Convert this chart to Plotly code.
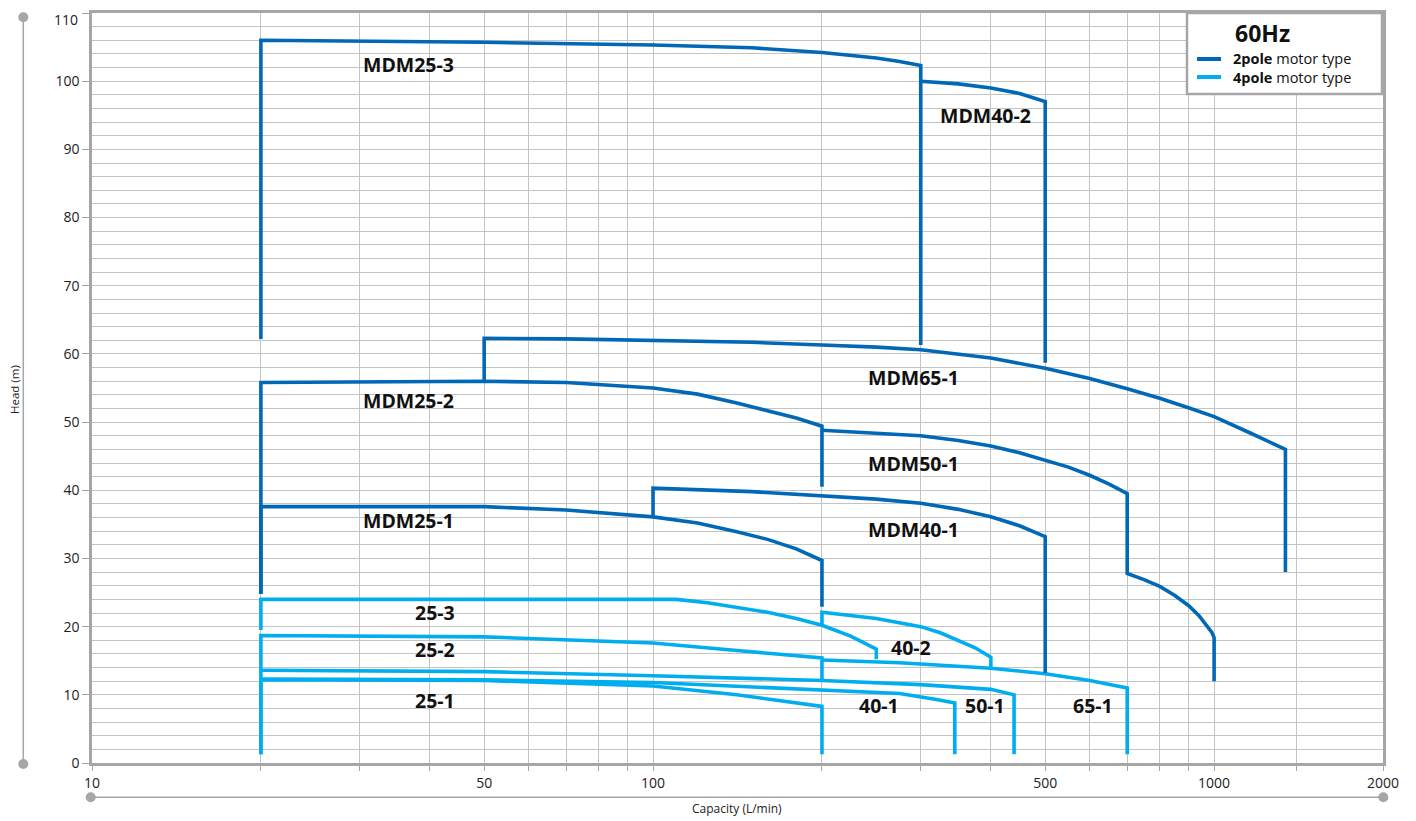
import numpy as np
import plotly.graph_objects as go

# ---------------- data ----------------
# 2-pole motor type (dark blue)
mdm25_3_x = [20, 20, 50, 100, 150, 200, 250, 275, 300, 300]
mdm25_3_y = [62.2, 106.0, 105.7, 105.3, 104.9, 104.2, 103.4, 102.9, 102.3, 61.3]
mdm40_2_x = [300, 350, 400, 450, 500, 500]
mdm40_2_y = [100.0, 99.6, 99.0, 98.2, 97.0, 58.7]
mdm65_1_x = [50, 50, 70, 100, 150, 200, 250, 300, 400, 500, 600, 700, 800, 900, 1000, 1160, 1340, 1340]
mdm65_1_y = [56.0, 62.3, 62.2, 62.0, 61.7, 61.3, 61.0, 60.6, 59.4, 57.9, 56.4, 54.9, 53.5, 52.1, 50.8, 48.4, 46.0, 28.0]
mdm25_2_x = [20, 20, 50, 70, 100, 120, 141, 160, 180, 200, 200]
mdm25_2_y = [24.8, 55.8, 56.0, 55.8, 55.0, 54.1, 52.8, 51.7, 50.6, 49.4, 40.5]
mdm50_1_x = [200, 250, 300, 350, 400, 450, 500, 550, 600, 650, 700, 700, 750, 800, 850, 900, 940, 970, 990, 1000, 1000]
mdm50_1_y = [48.8, 48.4, 48.0, 47.3, 46.5, 45.5, 44.4, 43.4, 42.2, 40.9, 39.5, 27.8, 26.9, 25.9, 24.6, 23.1, 21.6, 20.2, 19.2, 18.4, 12.0]
mdm25_1_x = [20, 20, 50, 70, 100, 120, 141, 160, 180, 200, 200]
mdm25_1_y = [24.8, 37.6, 37.6, 37.1, 36.1, 35.2, 33.9, 32.8, 31.4, 29.7, 22.9]
mdm40_1_x = [100, 100, 150, 200, 250, 300, 350, 400, 450, 500, 500]
mdm40_1_y = [36.1, 40.3, 39.8, 39.2, 38.7, 38.1, 37.2, 36.1, 34.8, 33.2, 13.2]

# 4-pole motor type (light blue)
p25_3_x = [20, 20, 50, 100, 110, 125, 141, 160, 180, 200, 225, 250, 250]
p25_3_y = [19.5, 24.0, 24.0, 24.1, 24.0, 23.5, 22.8, 22.1, 21.2, 20.2, 18.6, 16.7, 15.2]
p40_2_x = [200, 200, 250, 300, 325, 350, 375, 400, 400]
p40_2_y = [20.2, 22.1, 21.2, 20.0, 19.1, 18.0, 16.9, 15.5, 14.0]
p25_2_x = [20, 20, 50, 100, 141, 200, 200]
p25_2_y = [1.3, 18.7, 18.5, 17.6, 16.5, 15.4, 12.3]
p65_1_x = [200, 275, 400, 500, 600, 700, 700]
p65_1_y = [15.1, 14.7, 13.9, 13.1, 12.1, 11.0, 1.3]
p50_1_x = [20, 50, 100, 200, 300, 400, 440, 440]
p50_1_y = [13.6, 13.4, 12.8, 12.1, 11.5, 10.8, 10.0, 1.3]
p40_1_x = [20, 50, 100, 200, 275, 320, 345, 345]
p40_1_y = [12.3, 12.2, 11.8, 10.7, 10.2, 9.3, 8.8, 1.3]
p25_1_x = [20, 20, 50, 100, 141, 200, 200]
p25_1_y = [1.3, 12.2, 12.1, 11.3, 10.0, 8.3, 1.3]

# curve labels: text, x, y
label_text = ["MDM25-3", "MDM40-2", "MDM65-1", "MDM25-2", "MDM50-1", "MDM25-1", "MDM40-1",
              "25-3", "40-2", "25-2", "25-1", "40-1", "50-1", "65-1"]
label_x = [36.6, 391, 291, 36.6, 291, 36.6, 291, 40.8, 288, 40.8, 40.8, 253, 391, 608]
label_y = [102.4, 94.9, 56.5, 53.2, 43.9, 35.5, 34.2, 22.1, 17.0, 16.7, 9.1, 8.4, 8.4, 8.4]

# axis ticks
x_grid = [10, 20, 30, 40, 50, 60, 70, 80, 90, 100, 200, 300, 400, 500, 600, 700, 800, 900,
          1000, 1400, 2000]
x_labeled = [10, 50, 100, 500, 1000, 2000]
y_ticks = list(range(0, 111, 10))
y_top_label = "110"

DARK = "#0068b7"
LIGHT = "#00aeef"
GRID = "#c4c4c4"
AXIS = "#a6a6a6"
FONT = "Open Sans"

series_2pole = [(mdm25_3_x, mdm25_3_y), (mdm40_2_x, mdm40_2_y), (mdm65_1_x, mdm65_1_y),
                (mdm25_2_x, mdm25_2_y), (mdm50_1_x, mdm50_1_y), (mdm25_1_x, mdm25_1_y),
                (mdm40_1_x, mdm40_1_y)]
series_4pole = [(p25_3_x, p25_3_y), (p40_2_x, p40_2_y), (p25_2_x, p25_2_y),
                (p65_1_x, p65_1_y), (p50_1_x, p50_1_y), (p40_1_x, p40_1_y),
                (p25_1_x, p25_1_y)]

fig = go.Figure()
for xs, ys in series_4pole:
    fig.add_trace(go.Scatter(x=xs, y=ys, mode="lines",
                             line=dict(color=LIGHT, width=3.6), hoverinfo="skip"))
for xs, ys in series_2pole:
    fig.add_trace(go.Scatter(x=xs, y=ys, mode="lines",
                             line=dict(color=DARK, width=3.6), hoverinfo="skip"))

annotations = []
for t, lx, ly in zip(label_text, label_x, label_y):
    annotations.append(dict(x=np.log10(lx), y=ly, xref="x", yref="y", text="<b>%s</b>" % t,
                            showarrow=False, xanchor="center", yanchor="middle",
                            font=dict(family=FONT, size=19.5, color="#111111")))

# page offset of the figure (body margin) and plot area in page pixels
O = 8
W, H = 1400, 813
L, R, T, B = 92, 1383, 13, 763
def px(v):
    return (v - L) / (R - L)
def py(v):
    return (B - v) / (B - T)

# top y tick label drawn as annotation so it stays inside the page
annotations.append(dict(x=px(79.5), y=py(8.5), xref="paper", yref="paper", text=y_top_label,
                        showarrow=False, xanchor="right", yanchor="top",
                        font=dict(family=FONT, size=14, color="#222222")))

# axis titles
annotations.append(dict(x=px(15), y=py(390), xref="paper", yref="paper", text="Head (m)",
                        showarrow=False, textangle=-90, xanchor="center", yanchor="middle",
                        font=dict(family=FONT, size=11.5, color="#222222")))
annotations.append(dict(x=px(737), y=py(809), xref="paper", yref="paper",
                        text="Capacity (L/min)", showarrow=False, xanchor="center",
                        yanchor="middle", font=dict(family=FONT, size=12, color="#222222")))

# legend texts
annotations.append(dict(x=px(1262), y=py(33), xref="paper", yref="paper", text="<b>60Hz</b>",
                        showarrow=False, xanchor="center", yanchor="middle",
                        font=dict(family=FONT, size=23, color="#111111")))
annotations.append(dict(x=px(1231), y=py(58.5), xref="paper", yref="paper",
                        text="<b>2pole</b> motor type", showarrow=False, xanchor="left",
                        yanchor="middle", font=dict(family=FONT, size=14.5, color="#111111")))
annotations.append(dict(x=px(1231), y=py(77.5), xref="paper", yref="paper",
                        text="<b>4pole</b> motor type", showarrow=False, xanchor="left",
                        yanchor="middle", font=dict(family=FONT, size=14.5, color="#111111")))

shapes = []
# legend box
shapes.append(dict(type="rect", xref="paper", yref="paper", x0=px(1187), x1=px(1382),
                   y0=py(94), y1=py(13), fillcolor="white", line=dict(color=AXIS, width=2.5),
                   layer="above"))
shapes.append(dict(type="line", xref="paper", yref="paper", x0=px(1197), x1=px(1221),
                   y0=py(59), y1=py(59), line=dict(color=DARK, width=4), layer="above"))
shapes.append(dict(type="line", xref="paper", yref="paper", x0=px(1197), x1=px(1221),
                   y0=py(77), y1=py(77), line=dict(color=LIGHT, width=4), layer="above"))

# decorative axis guides with dots
shapes.append(dict(type="line", xref="paper", yref="paper", x0=px(23.3), x1=px(23.3),
                   y0=py(17.3), y1=py(764), line=dict(color=AXIS, width=1.5)))
shapes.append(dict(type="line", xref="paper", yref="paper", x0=px(90.7), x1=px(1383.3),
                   y0=py(797.3), y1=py(797.3), line=dict(color=AXIS, width=1.5)))
for cx, cy in [(23.3, 17.3), (23.3, 764), (90.7, 797.3), (1383.3, 797.3)]:
    shapes.append(dict(type="circle", xref="paper", yref="paper", xsizemode="pixel",
                       ysizemode="pixel", xanchor=px(cx), yanchor=py(cy), x0=-5, x1=5,
                       y0=-5, y1=5, fillcolor=AXIS, line=dict(color=AXIS, width=0)))

x_text = [str(v) if v in x_labeled else "" for v in x_grid]
y_text = [str(v) if v != 110 else "" for v in y_ticks]

fig.update_layout(
    width=W, height=H,
    margin=dict(l=L - O, r=W - (R - O), t=T - O, b=H - (B - O), pad=0),
    paper_bgcolor="white", plot_bgcolor="white",
    showlegend=False,
    font=dict(family=FONT, color="#222222"),
    annotations=annotations,
    shapes=shapes,
    xaxis=dict(type="log", range=[1, np.log10(2000)], tickmode="array",
               tickvals=x_grid, ticktext=x_text, showgrid=True, gridcolor=GRID,
               gridwidth=1.3, showline=True, linecolor=AXIS, linewidth=2.5, mirror=True,
               ticks="outside", ticklen=5, tickwidth=1.3, tickcolor=AXIS, automargin=False,
               ticklabeloverflow="allow",
               tickfont=dict(family=FONT, size=14, color="#222222"), zeroline=False),
    yaxis=dict(range=[0, 110], tickmode="array", tickvals=y_ticks, ticktext=y_text,
               showgrid=True, gridcolor=GRID, gridwidth=1.3, showline=True, linecolor=AXIS,
               linewidth=2.5, mirror=True, ticks="outside", ticklen=7, tickwidth=1.3,
               tickcolor=AXIS, tickfont=dict(family=FONT, size=14, color="#222222"),
               zeroline=False, automargin=False, ticklabeloverflow="allow",
               minor=dict(dtick=2, showgrid=True, gridcolor=GRID, gridwidth=1.3)),
)

fig.write_html("out.html")
